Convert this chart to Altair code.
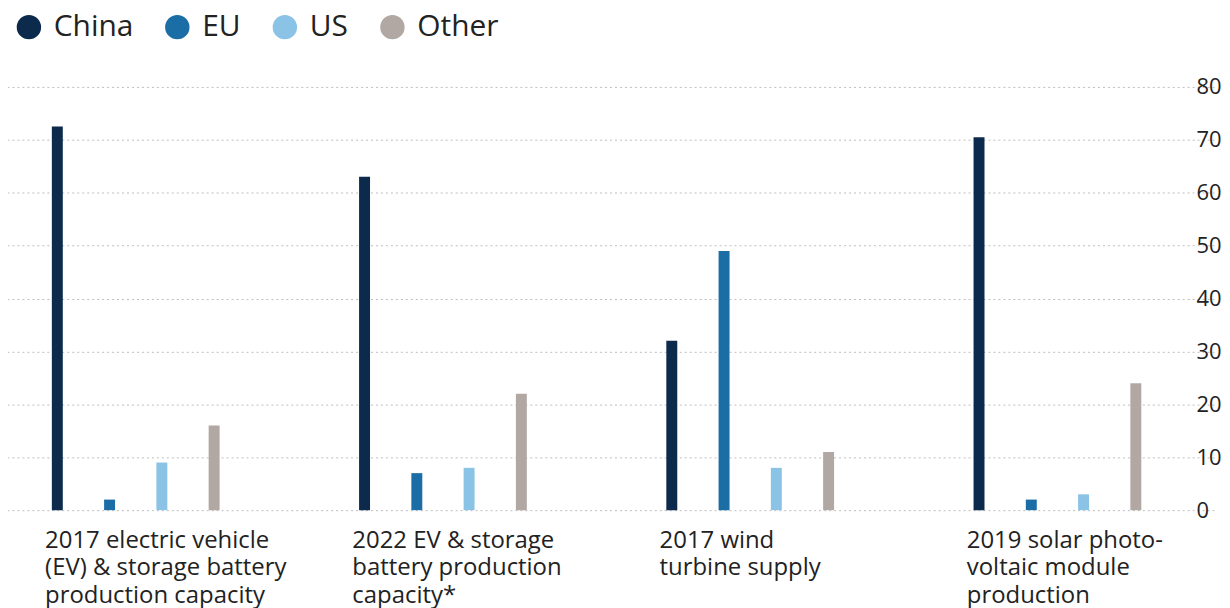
import altair as alt
import pandas as pd

categories = [
    "2017 electric vehicle\n(EV) & storage battery\nproduction capacity",
    "2022 EV & storage\nbattery production\ncapacity*",
    "2017 wind\nturbine supply",
    "2019 solar photo-\nvoltaic module\nproduction",
]
series = ["China", "EU", "US", "Other"]
values = {
    "China": [72.5, 63, 32, 70.5],
    "EU": [2, 7, 49, 2],
    "US": [9, 8, 8, 3],
    "Other": [16, 22, 11, 24],
}
colors = ["#0c2a4b", "#1b6da6", "#8bc3e6", "#b2a8a3"]

rows = []
for s in series:
    for c, v in zip(categories, values[s]):
        rows.append({"category": c, "region": s, "value": v})
df = pd.DataFrame(rows)
labels_df = pd.DataFrame({"category": categories})

FONT = "Open Sans"
W, H = 1175, 425

xscale = alt.Scale(domain=categories, range=[-31, 1203], paddingInner=0, paddingOuter=0)

bars = alt.Chart(df).mark_bar(width=11).encode(
    x=alt.X("category:N", scale=xscale, axis=None, sort=categories),
    xOffset=alt.XOffset("region:N", sort=series,
                        scale=alt.Scale(domain=series, paddingInner=0, paddingOuter=0.939)),
    y=alt.Y("value:Q", scale=alt.Scale(domain=[0, 80], nice=False),
            axis=alt.Axis(orient="right", values=list(range(0, 81, 10)), title=None,
                          domain=False, ticks=False, labelAlign="left", labelPadding=13,
                          labelFont=FONT, labelFontSize=22, labelColor="#222222",
                          grid=True, gridColor="#bdbdbd", gridDash=[2, 3], gridWidth=1)),
    color=alt.Color("region:N", sort=series,
                    scale=alt.Scale(domain=series, range=colors),
                    legend=alt.Legend(orient="none", legendX=1, legendY=-75, direction="horizontal",
                                      title=None, symbolType="circle", symbolSize=600,
                                      symbolStrokeWidth=0, labelFont=FONT, labelFontSize=30,
                                      labelColor="#222222", labelOffset=10, columnPadding=29)),
)

text = alt.Chart(labels_df).mark_text(
    align="left", baseline="top", dx=-91, dy=19, lineBreak="\n", lineHeight=27.5,
    font=FONT, fontSize=24, color="#222222"
).encode(
    x=alt.X("category:N", scale=xscale, sort=categories),
    y=alt.value(H),
    text="category:N",
)

chart = alt.layer(bars, text).properties(
    width=W, height=H, background="white",
    padding={"left": 5, "right": 0, "top": 3, "bottom": 0}
).configure_view(stroke=None)

chart.save("out.html", embed_options={"renderer": "svg", "actions": False})
